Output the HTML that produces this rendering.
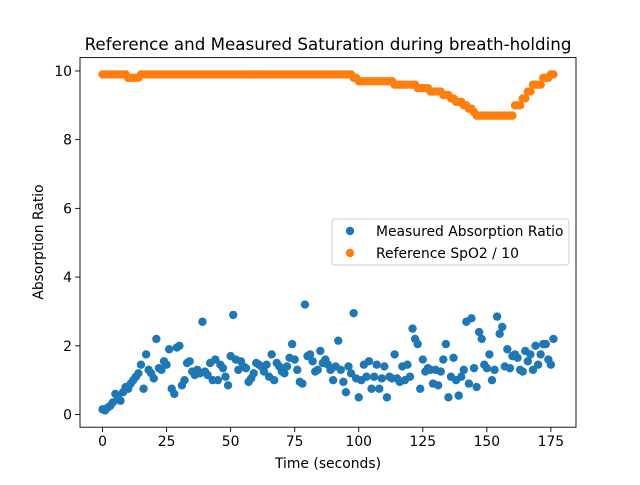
<!DOCTYPE html>
<html><head><meta charset="utf-8"><style>body{margin:0;background:#fff}svg{font-family:"DejaVu Sans","Liberation Sans",sans-serif}</style></head>
<body>
<svg id="chart" width="640" height="480" viewBox="0 0 640 480" xmlns="http://www.w3.org/2000/svg">
<rect width="640" height="480" fill="#fff"/>
<text x="328" y="50" text-anchor="middle" font-size="16.7">Reference and Measured Saturation during breath-holding</text>
<g id="marks"></g>
<rect x="80" y="57.6" width="496" height="369.6" fill="none" stroke="#000" stroke-width="0.9"/>
<g id="axes"></g>
<text x="328" y="468" text-anchor="middle" font-size="13.9">Time (seconds)</text>
<text transform="translate(43,242) rotate(-90)" text-anchor="middle" font-size="13.9">Absorption Ratio</text>
<g>
<rect x="332" y="219" width="237" height="46" rx="3" fill="#fff" fill-opacity="0.8" stroke="#ccc"/>
<circle cx="350" cy="231" r="4.2" fill="#1f77b4"/>
<text x="376" y="236" font-size="13.9">Measured Absorption Ratio</text>
<circle cx="350" cy="253" r="4.2" fill="#ff7f0e"/>
<text x="376" y="258" font-size="13.9">Reference SpO2 / 10</text>
</g>
</svg>
<script>
const measured = [0.15,0.12,0.2,0.25,0.35,0.6,0.5,0.4,0.65,0.8,0.75,
0.9,1.0,1.1,1.2,1.45,0.75,1.75,1.3,1.2,1.05,
2.2,1.35,1.3,1.55,1.45,1.9,0.75,0.6,1.95,2.0,
0.85,1.0,1.5,1.55,1.25,1.15,1.3,1.2,2.7,1.25,
1.15,1.5,1.0,1.6,1.0,1.45,1.35,1.1,0.85,1.7,
2.9,1.6,1.3,1.55,1.4,1.35,0.95,1.05,1.2,1.5,
1.45,1.4,1.25,1.45,1.1,1.75,1.0,1.5,1.4,1.25,
1.2,1.4,1.65,2.05,1.6,1.3,0.95,0.9,3.2,1.7,
1.75,1.55,1.25,1.3,1.85,1.5,1.6,1.45,1.3,1.0,
1.4,2.15,1.3,0.95,0.65,1.4,1.2,2.95,1.05,0.5,
1.0,1.45,1.1,1.55,0.75,1.1,1.45,0.75,1.05,1.4,
0.5,1.1,1.05,1.75,1.05,0.95,1.4,1.0,1.45,1.1,
2.5,2.2,2.05,0.75,1.6,1.25,1.35,1.3,0.9,1.3,
0.85,1.25,1.6,2.05,0.5,1.1,1.65,1.0,0.55,1.1,
1.3,2.7,0.9,2.8,1.35,0.8,2.4,2.2,1.45,1.35,
1.75,1.0,1.3,2.85,2.35,2.55,1.4,1.9,1.35,1.7,
1.75,1.65,1.3,1.25,1.85,1.55,1.75,1.3,2.0,1.45,
1.75,2.05,2.05,1.6,1.45,2.2];
const refLevels = [9.9,9.8,9.9,9.8,9.7,9.6,9.5,9.4,9.3,9.2,9.1,9.0,8.9,8.8,8.7,9.0,9.2,9.4,9.6,9.8,9.9];
const refCounts = [10,5,83,2,14,9,5,5,3,2,3,2,2,1,15,3,2,2,4,3,2];
const xTicks = [0,25,50,75,100,125,150,175];
const yTicks = [0,2,4,6,8,10];
const reference = [];
refLevels.forEach((v,i)=>{for(let k=0;k<refCounts[i];k++) reference.push(v);});
const X0=80,X1=576,Y0=57.6,Y1=427.2;
const n=Math.max(measured.length,reference.length);
const xmin=-0.05*(n-1), xmax=(n-1)*1.05;
const all=measured.concat(reference);
const dmin=Math.min(...all), dmax=Math.max(...all), pad=(dmax-dmin)*0.05;
const ymin=dmin-pad, ymax=dmax+pad;
const sx=v=>X0+(v-xmin)/(xmax-xmin)*(X1-X0);
const sy=v=>Y1-(v-ymin)/(ymax-ymin)*(Y1-Y0);
const NS="http://www.w3.org/2000/svg";
const marks=document.getElementById('marks'), axes=document.getElementById('axes');
function mk(tag,attrs,parent){const e=document.createElementNS(NS,tag);for(const k in attrs)e.setAttribute(k,attrs[k]);parent.appendChild(e);return e;}
measured.forEach((v,i)=>{
  const c=mk('circle',{cx:sx(i),cy:sy(v),r:4.2,fill:'#1f77b4'},marks);
  
  
});
reference.forEach((v,i)=>{
  const c=mk('circle',{cx:sx(i),cy:sy(v),r:4.2,fill:'#ff7f0e'},marks);
  
  
});
xTicks.forEach(t=>{
  const x=sx(t);
  const l=mk('line',{x1:x,x2:x,y1:Y1,y2:Y1+4.9,stroke:'#000','stroke-width':0.9},axes);
  
  
  const tx=mk('text',{x:x,y:Y1+19,'text-anchor':'middle','font-size':13.9},axes);
  
  
  tx.textContent=t;
});
yTicks.forEach(t=>{
  const y=sy(t);
  const l=mk('line',{x1:X0-4.9,x2:X0,y1:y,y2:y,stroke:'#000','stroke-width':0.9},axes);
  
  
  const tx=mk('text',{x:X0-8,y:y+5,'text-anchor':'end','font-size':13.9},axes);
  
  
  tx.textContent=t;
});
</script>
</body></html>
